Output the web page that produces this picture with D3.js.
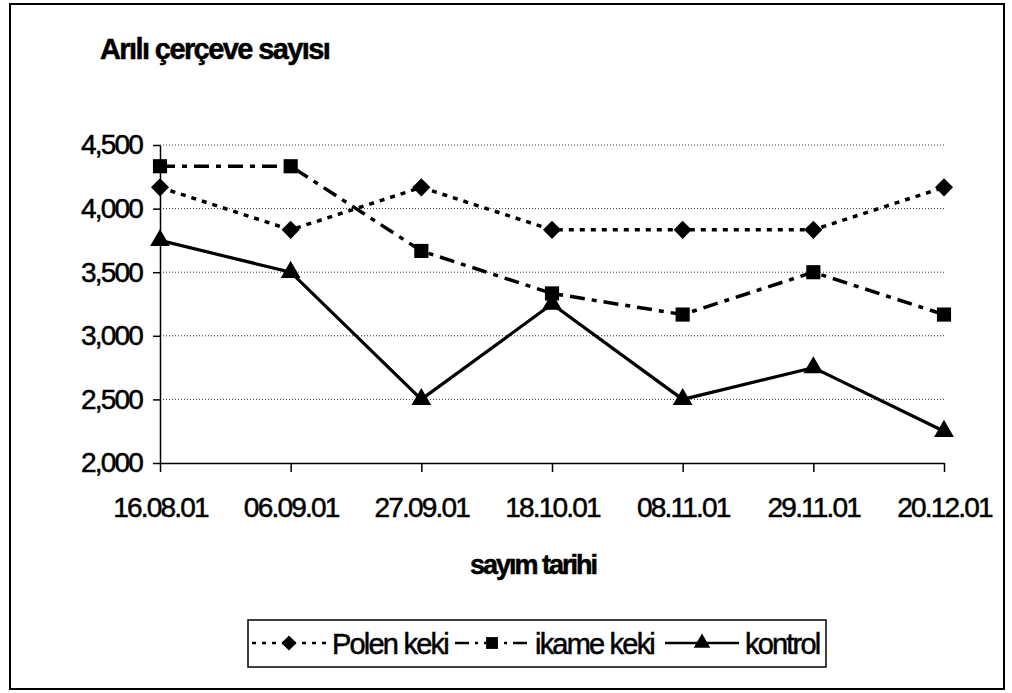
<!DOCTYPE html>
<html>
<head>
<meta charset="utf-8">
<script src="https://cdn.jsdelivr.net/npm/d3@7"></script>
<style>
    body { margin: 0; background: #fff; }
    text { font-family: "Liberation Sans", Arial, sans-serif; fill: #000; stroke: #000; stroke-width: 0.5px; }
</style>
</head>
<body>
<div class="graph-content"></div>
<script>
var dates = ["16.08.01", "06.09.01", "27.09.01", "18.10.01", "08.11.01", "29.11.01", "20.12.01"];
var polen = [4167, 3833, 4167, 3833, 3833, 3833, 4167];
var ikame = [4333, 4333, 3667, 3333, 3167, 3500, 3167];
var kontrol = [3750, 3500, 2500, 3250, 2500, 2750, 2250];
var yTicks = [2000, 2500, 3000, 3500, 4000, 4500];
var seriesNames = ["Polen keki", "ikame keki", "kontrol"];

var margin = {top: 145, right: 68, bottom: 230, left: 160},
    width = 1012 - margin.left - margin.right,
    height = 693 - margin.top - margin.bottom;

var root = d3.select(".graph-content").append("svg")
    .attr("width", 1012)
    .attr("height", 693)
    .attr("style", "display: block;");

// outer frame
root.append("rect")
    .attr("x", 10)
    .attr("y", 4)
    .attr("width", 994)
    .attr("height", 685)
    .attr("fill", "none")
    .attr("stroke", "#000")
    .attr("stroke-width", 2);

root.append("text")
    .attr("x", 100)
    .attr("y", 59)
    .style("font-size", "29px")
    .style("font-weight", "bold")
    .style("letter-spacing", "-1.6px")
    .text("Arılı çerçeve sayısı");

var svg = root.append("g")
    .attr("transform", "translate(" + margin.left + "," + margin.top + ")");

var x = d3.scalePoint().domain(dates).range([0, width]);
var y = d3.scaleLinear().domain([2000, 4500]).range([height, 0]);

// dotted grid
svg.selectAll(".grid")
    .data(yTicks.slice(1))
    .enter().append("line")
    .attr("class", "grid")
    .attr("x1", 0)
    .attr("x2", width)
    .attr("y1", function(d) { return y(d); })
    .attr("y2", function(d) { return y(d); })
    .attr("stroke", "#333")
    .attr("stroke-width", 1)
    .attr("stroke-dasharray", "1,2");

svg.append("g")
    .attr("class", "y axis")
    .call(d3.axisLeft(y).tickValues(yTicks).tickFormat(d3.format(",")).tickSize(7).tickSizeOuter(0).tickPadding(11));

svg.append("g")
    .attr("class", "x axis")
    .attr("transform", "translate(0," + height + ")")
    .call(d3.axisBottom(x).tickSize(9).tickSizeOuter(0).tickPadding(25));

svg.selectAll(".axis path, .axis line")
    .attr("stroke", "#000")
    .attr("stroke-width", 1.5);

svg.selectAll(".axis text")
    .attr("fill", "#000")
    .style("font-family", "'Liberation Sans', Arial, sans-serif")
    .style("font-size", "28px")
    .style("letter-spacing", "-1.8px");

root.append("text")
    .attr("x", 533)
    .attr("y", 574)
    .attr("text-anchor", "middle")
    .style("font-size", "27px")
    .style("font-weight", "bold")
    .style("letter-spacing", "-2px")
    .text("sayım tarihi");

var styles = [
    {values: polen, dash: "5,6", width: 3.5, symbol: d3.symbolDiamond2, size: 210},
    {values: ikame, dash: "15,7,5,7", width: 3.5, symbol: d3.symbolSquare, size: 200},
    {values: kontrol, dash: null, width: 3.2, symbol: d3.symbolTriangle, size: 170}
];

var line = d3.line()
    .x(function(d, i) { return x(dates[i]); })
    .y(function(d) { return y(d); });

styles.forEach(function(s)
{
    svg.append("path")
        .datum(s.values)
        .attr("fill", "none")
        .attr("stroke", "#000")
        .attr("stroke-width", s.width)
        .attr("stroke-dasharray", s.dash)
        .attr("d", line);

    svg.selectAll(null)
        .data(s.values)
        .enter().append("path")
        .attr("transform", function(d, i) { return "translate(" + x(dates[i]) + "," + y(d) + ")"; })
        .attr("d", d3.symbol().type(s.symbol).size(s.size))
        .attr("fill", "#000");
});

// legend
var legend = root.append("g");

legend.append("rect")
    .attr("x", 248)
    .attr("y", 620)
    .attr("width", 578)
    .attr("height", 47)
    .attr("fill", "none")
    .attr("stroke", "#000")
    .attr("stroke-width", 1.5);

var legendX = [252, 455, 665];
var legendDash = ["4,6", "14,6,3,6", null];

seriesNames.forEach(function(name, i)
{
    var s = styles[i];
    legend.append("line")
        .attr("x1", legendX[i])
        .attr("x2", legendX[i] + 74)
        .attr("y1", 643)
        .attr("y2", 643)
        .attr("stroke", "#000")
        .attr("stroke-width", 2.5)
        .attr("stroke-dasharray", legendDash[i]);

    legend.append("path")
        .attr("transform", "translate(" + (legendX[i] + 37) + ",643)")
        .attr("d", d3.symbol().type(s.symbol).size(s.size * 0.7))
        .attr("fill", "#000");

    legend.append("text")
        .attr("x", legendX[i] + 80)
        .attr("y", 654)
        .style("font-size", "29px")
        .style("letter-spacing", "-1.8px")
        .text(name);
});
</script>
</body>
</html>
